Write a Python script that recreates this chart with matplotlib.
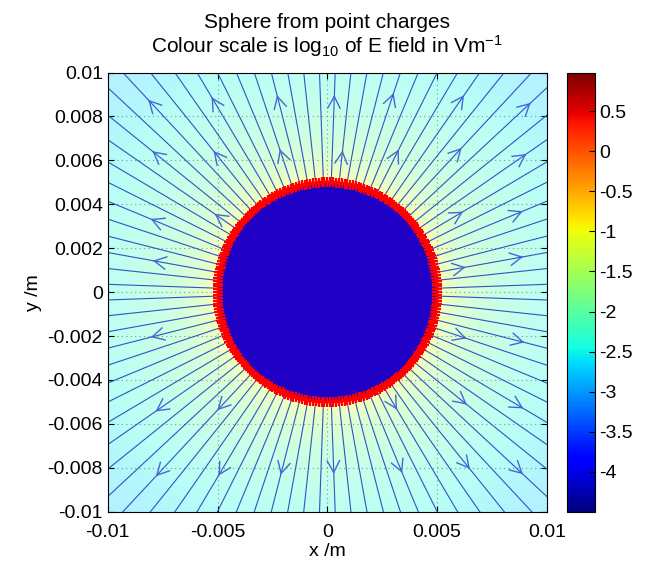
import numpy as np
import matplotlib.pyplot as plt
from matplotlib.colors import Normalize
from matplotlib.cm import ScalarMappable
from matplotlib.patches import Circle

plt.rcParams['font.family'] = ['Liberation Sans', 'DejaVu Sans']
plt.rcParams['mathtext.default'] = 'regular'

# Sphere made of point charges on a circle of radius sphereRadius
sphereRadius = 0.005      # m
numCharges = 240
chargeEach = 1.602e-19    # C
coulombK = 8.99e9
numFieldLines = 88

# Colour scale limits (log10 of E)
colourMin, colourMax = -4.5, 0.97

xTicks = [-0.01, -0.005, 0, 0.005, 0.01]
xTickLabels = ['-0.01', '-0.005', '0', '0.005', '0.01']
yTicks = [-0.01, -0.008, -0.006, -0.004, -0.002, 0, 0.002, 0.004, 0.006, 0.008, 0.01]
yTickLabels = ['-0.01', '-0.008', '-0.006', '-0.004', '-0.002', '0',
               '0.002', '0.004', '0.006', '0.008', '0.01']
cbarTicks = [-4, -3.5, -3, -2.5, -2, -1.5, -1, -0.5, 0, 0.5]
cbarTickLabels = ['-4', '-3.5', '-3', '-2.5', '-2', '-1.5', '-1', '-0.5', '0', '0.5']

# Where the direction arrows sit (rough grid)
arrowGridX = [-0.0079, -0.0051, -0.0023, 0.0005, 0.0033, 0.0062, 0.0089]
arrowGridY = [0.0089, 0.0064, 0.0035, 0.0013, -0.0023, -0.0052, -0.0082]

# Charge positions
chargeAngles = np.linspace(0, 2 * np.pi, numCharges, endpoint=False)
chargeX = sphereRadius * np.cos(chargeAngles)
chargeY = sphereRadius * np.sin(chargeAngles)

# E field on a grid
gridN = 400
xs = np.linspace(-0.01, 0.01, gridN)
X, Y = np.meshgrid(xs, xs)
Ex = np.zeros_like(X)
Ey = np.zeros_like(X)
for cx, cy in zip(chargeX, chargeY):
    dx = X - cx
    dy = Y - cy
    r3 = (dx * dx + dy * dy) ** 1.5
    Ex += coulombK * chargeEach * dx / r3
    Ey += coulombK * chargeEach * dy / r3
logE = np.log10(np.hypot(Ex, Ey))

fig = plt.figure(figsize=(6.45, 5.63), dpi=100)
ax = fig.add_axes([0.167, 0.0906, 0.681, 0.781])

norm = Normalize(colourMin, colourMax)
ax.imshow(logE, cmap='jet', norm=norm, alpha=0.3, origin='lower',
          extent=[-0.01, 0.01, -0.01, 0.01], interpolation='bilinear', zorder=0)

# Field lines (radial)
lineColour = '#3452c6'
lineAngles = (np.arange(numFieldLines) + 0.5) * 2 * np.pi / numFieldLines
for a in lineAngles:
    ax.plot([sphereRadius * np.cos(a), 0.016 * np.cos(a)],
            [sphereRadius * np.sin(a), 0.016 * np.sin(a)],
            color=lineColour, lw=0.8, zorder=1)

# Arrows pointing outwards, snapped onto the nearest field line
armLen = 0.0006
for gx in arrowGridX:
    for gy in arrowGridY:
        r = np.hypot(gx, gy)
        if r < 0.0057:
            continue
        a = np.arctan2(gy, gx)
        a = lineAngles[np.argmin(np.abs(np.angle(np.exp(1j * (lineAngles - a)))))]
        tipX, tipY = r * np.cos(a), r * np.sin(a)
        for side in (-1, 1):
            b = a + np.pi + side * np.radians(28)
            ax.plot([tipX, tipX + armLen * np.cos(b)], [tipY, tipY + armLen * np.sin(b)],
                    color='#4466dd', lw=1.0, zorder=1.5)

# The sphere itself and its charges
ax.add_patch(Circle((0, 0), sphereRadius, facecolor='#2000c4', edgecolor='none', zorder=2))
ax.plot(chargeX, chargeY, '+', color='red', markersize=7, mew=1.6, zorder=3)

ax.set_xlim(-0.01, 0.01)
ax.set_ylim(-0.01, 0.01)
ax.set_xticks(xTicks, xTickLabels)
ax.set_yticks(yTicks, yTickLabels)
ax.tick_params(direction='in', top=True, right=True, labelsize=14, length=4)
ax.tick_params(axis='x', pad=9)
ax.set_axisbelow(True)
ax.grid(True, linestyle=(0, (1, 3)), color='#557070', lw=0.8, alpha=0.7)
ax.set_xlabel('x /m', fontsize=14, labelpad=1)
ax.set_ylabel('y /m', fontsize=14, labelpad=4)
ax.set_title('Sphere from point charges\nColour scale is log$_{10}$ of E field in Vm$^{-1}$',
             fontsize=15, pad=14, linespacing=1.05)

cax = fig.add_axes([0.879, 0.0906, 0.043, 0.779])
cbar = fig.colorbar(ScalarMappable(norm=norm, cmap='jet'), cax=cax)
cbar.set_ticks(cbarTicks, labels=cbarTickLabels)
cbar.ax.tick_params(direction='in', labelsize=14, length=4)

fig.savefig('out.png', dpi=100)
